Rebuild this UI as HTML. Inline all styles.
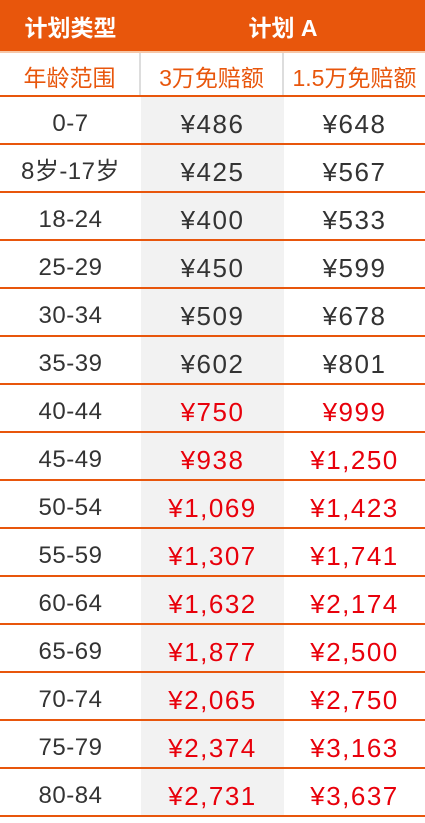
<!DOCTYPE html>
<html><head><meta charset="utf-8"><style>
*{margin:0;padding:0;box-sizing:border-box}
body{width:425px;height:818px;background:#fff;overflow:hidden;font-family:"Liberation Sans","Noto Sans CJK SC",sans-serif;position:relative}
.hdr{position:absolute;left:0;top:0;width:425px;height:51px;background:#e8560c;color:#fff;font-weight:bold;font-size:23px}
.hdr div{position:absolute;top:0;height:51px;line-height:56px;text-align:center}
.sub{position:absolute;left:0;top:51px;width:425px;height:46px;border-top:2px solid #f6c7a8;border-bottom:2px solid #e8560c;color:#e8560c;font-size:23px}
.sub div{position:absolute;top:0;height:42px;line-height:50px;text-align:center}
.row{position:absolute;left:0;width:425px;height:48px;border-bottom:2px solid #e8560c;font-size:26px;color:#333}
.row div{position:absolute;top:0;height:46px;line-height:54px;text-align:center;letter-spacing:1.5px}
.row .c1{font-size:24px;letter-spacing:0.5px}
.c1{left:0;width:141px}.c2{left:141px;width:143px;background:#f2f2f2}.c3{left:284px;width:141px}
.red{color:#e8000b}
</style></head><body>
<div class="hdr">
<div style="left:0;width:141px">计划类型</div>
<div style="left:141px;width:284px">计划 A</div>
</div>
<div class="sub">
<div class="c1" style="border-right:2px solid #ddd">年龄范围</div>
<div style="left:141px;width:143px;border-right:2px solid #ddd">3万免赔额</div>
<div class="c3">1.5万免赔额</div>
</div>
<div id="rows"></div>
<script>
const ages=["0-7","8岁-17岁","18-24","25-29","30-34","35-39","40-44","45-49","50-54","55-59","60-64","65-69","70-74","75-79","80-84"];
const col30k=["¥486","¥425","¥400","¥450","¥509","¥602","¥750","¥938","¥1,069","¥1,307","¥1,632","¥1,877","¥2,065","¥2,374","¥2,731"];
const col15k=["¥648","¥567","¥533","¥599","¥678","¥801","¥999","¥1,250","¥1,423","¥1,741","¥2,174","¥2,500","¥2,750","¥3,163","¥3,637"];
const redFrom=6;
const host=document.getElementById('rows');
ages.forEach((a,i)=>{
 const r=document.createElement('div');r.className='row';r.style.top=(97+i*48)+'px';
 
 
 const red=i>=redFrom?' red':'';
 [[a,'c1','age-cell'],[col30k[i],'c2'+red,'price-30k-cell'],[col15k[i],'c3'+red,'price-15k-cell']].forEach(([t,c,n])=>{
  const d=document.createElement('div');d.className=c;d.textContent=t;
  
  
  r.appendChild(d);
 });
 host.appendChild(r);
});
</script>
</body></html>
